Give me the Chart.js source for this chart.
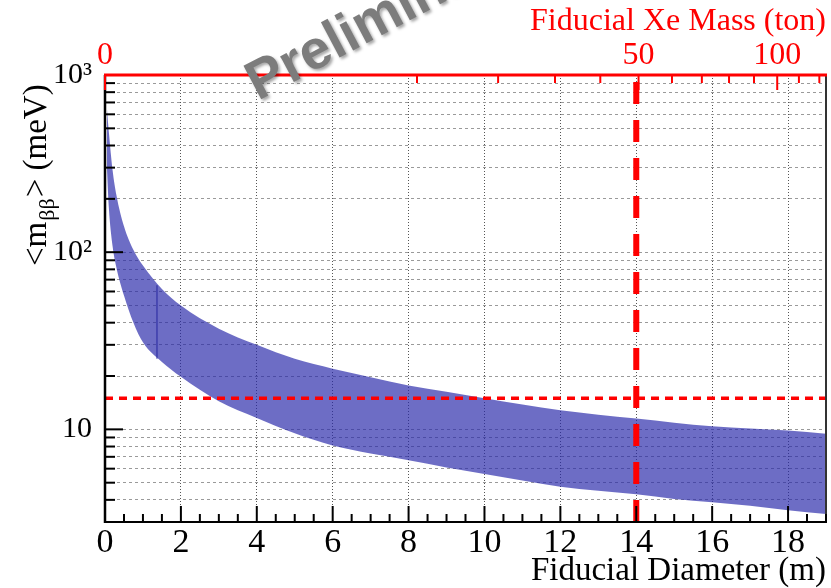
<!DOCTYPE html>
<html>
<head>
<meta charset="utf-8">
<script src="https://cdn.jsdelivr.net/npm/chart.js@4.4.1/dist/chart.umd.min.js"></script>
<style>
html,body{margin:0;padding:0;background:#ffffff;}
#wrap{width:831px;height:588px;position:relative;}
</style>
</head>
<body>
<div id="wrap"><canvas id="c" width="831" height="588"></canvas></div>
<script>
// ---- data ----
const diameter = [0.05, 0.1, 0.2, 0.3, 0.5, 0.75, 1, 1.5, 2, 3, 4, 5, 6, 7, 8, 9, 10, 11, 12, 13, 14, 15, 16, 17, 18, 19];
const upperMbb = [650, 480, 290, 210, 140, 103, 84, 62, 50, 37, 30, 25, 22, 19.7, 17.7, 16.3, 15, 13.8, 12.8, 12.1, 11.5, 10.9, 10.4, 10.1, 9.85, 9.45];
const lowerMbb = [300, 180, 108, 82, 57, 40, 31, 24, 19.8, 14.4, 11.6, 9.5, 8.1, 7.3, 6.7, 6.1, 5.6, 5.15, 4.75, 4.5, 4.3, 4.05, 3.88, 3.7, 3.5, 3.33];
const seamDiameter = [1.37, 1.37];
const seamMbb = [65, 25];
const goalMbb = 15;          // meV, horizontal red dashed line
const designDiameter = 14;   // m, vertical red dashed line

// ---- axes ----
const xRange = [0, 19];
const yRange = [3, 1000];
const diameterTicks = [0, 2, 4, 6, 8, 10, 12, 14, 16, 18];
const diameterMinorStep = 0.5;
const yGridValues = [3, 4, 5, 6, 7, 8, 9, 10, 20, 30, 40, 50, 60, 70, 80, 90, 100, 200, 300, 400, 500, 600, 700, 800, 900, 1000];
const yMajorValues = [10, 100, 1000];
const yTickLabels = ['10', '10\u00B2', '10\u00B3'];
const massLabels = [0, 50, 100];
const massMinor = [10, 20, 30, 40, 50, 60, 70, 80, 90, 100, 110, 120];
const diameterAt50ton = 14.06; // mass grows as diameter cubed
function massToDiameter(m) { return diameterAt50ton * Math.cbrt(m / 50); }

const SERIF = '"Liberation Serif", "Times New Roman", serif';
const RED = '#ff0000';

const framePlugin = {
  id: 'rootFrame',
  afterDatasetsDraw(chart) {
    const {ctx, chartArea: a, scales} = chart;
    const xs = scales.x, ys = scales.y;
    const seg = (x1, y1, x2, y2) => { ctx.beginPath(); ctx.moveTo(x1, y1); ctx.lineTo(x2, y2); ctx.stroke(); };
    ctx.save();
    ctx.setLineDash([]);
    // right frame
    ctx.strokeStyle = '#333'; ctx.lineWidth = 2;
    seg(a.right, a.top, a.right, a.bottom);
    // bottom axis
    ctx.strokeStyle = '#000'; ctx.lineWidth = 2;
    seg(a.left - 1, a.bottom, a.right + 1, a.bottom);
    const nMinor = Math.round((xRange[1] - xRange[0]) / diameterMinorStep);
    for (let i = 0; i <= nMinor; i++) {
      const d = xRange[0] + i * diameterMinorStep;
      const px = xs.getPixelForValue(d);
      const len = diameterTicks.includes(d) ? 16 : 8;
      seg(px, a.bottom, px, a.bottom - len);
    }
    // left axis
    ctx.lineWidth = 2.5;
    seg(a.left, a.top, a.left, a.bottom + 1);
    ctx.lineWidth = 2;
    yGridValues.forEach(v => {
      const py = ys.getPixelForValue(v);
      const len = yMajorValues.includes(v) ? 18 : 10;
      seg(a.left, py, a.left + len, py);
    });
    // top red mass axis
    ctx.strokeStyle = RED; ctx.lineWidth = 3;
    seg(a.left - 1, a.top, a.right + 1, a.top);
    ctx.lineWidth = 2;
    [0].concat(massMinor).forEach(m => {
      const px = xs.getPixelForValue(massToDiameter(m));
      const len = massLabels.includes(m) ? 15 : 8;
      seg(px, a.top, px, a.top + len);
    });
    ctx.restore();
  },
  afterDraw(chart) {
    const {ctx} = chart;
    // y axis title with subscript
    ctx.save();
    ctx.translate(46, 266);
    ctx.rotate(-Math.PI / 2);
    ctx.fillStyle = '#000';
    ctx.textAlign = 'left';
    ctx.textBaseline = 'alphabetic';
    ctx.font = '33px ' + SERIF;
    ctx.fillText('<m', 0, 0);
    let w = ctx.measureText('<m').width;
    ctx.font = '22px ' + SERIF;
    ctx.fillText('\u03B2\u03B2', w + 1, 8);
    w += ctx.measureText('\u03B2\u03B2').width + 2;
    ctx.font = '33px ' + SERIF;
    ctx.fillText('> (meV)', w, 0);
    ctx.restore();
    // watermark
    ctx.save();
    ctx.translate(258, 101);
    ctx.rotate(-28 * Math.PI / 180);
    ctx.font = 'bold 55px "Liberation Sans", Arial, sans-serif';
    ctx.textAlign = 'left';
    ctx.textBaseline = 'alphabetic';
    ctx.shadowColor = 'rgba(0,0,0,0.35)';
    ctx.shadowBlur = 3;
    ctx.shadowOffsetX = 2;
    ctx.shadowOffsetY = 2;
    ctx.fillStyle = '#7c7c7c';
    ctx.fillText('Preliminary', 0, 0);
    ctx.restore();
  }
};

const pts = (xs, ys) => xs.map((x, i) => ({x: x, y: ys[i]}));

new Chart(document.getElementById('c'), {
  type: 'line',
  data: {
    datasets: [
      {
        label: 'goal',
        data: pts([xRange[0], xRange[1]], [goalMbb, goalMbb]),
        borderColor: RED, borderWidth: 3.5, borderDash: [8, 6],
        pointRadius: 0, fill: false
      },
      {
        label: 'design',
        data: pts([designDiameter, designDiameter], [yRange[0], yRange[1]]),
        borderColor: RED, borderWidth: 6, borderDash: [22, 16],
        pointRadius: 0, fill: false
      },
      {
        label: 'seam',
        data: pts(seamDiameter, seamMbb),
        borderColor: 'rgba(40,40,160,0.85)', borderWidth: 1.2,
        pointRadius: 0, fill: false
      },
      {
        label: 'upper',
        data: pts(diameter, upperMbb),
        borderColor: 'rgba(0,0,0,0)', borderWidth: 0,
        backgroundColor: 'rgba(40,40,170,0.68)',
        fill: '+1', pointRadius: 0, cubicInterpolationMode: 'monotone'
      },
      {
        label: 'lower',
        data: pts(diameter, lowerMbb),
        borderColor: 'rgba(0,0,0,0)', borderWidth: 0,
        fill: false, pointRadius: 0, cubicInterpolationMode: 'monotone'
      }
    ]
  },
  options: {
    responsive: false,
    animation: false,
    devicePixelRatio: 1,
    layout: { padding: { left: 0, right: 5, top: 0, bottom: 0 } },
    plugins: { legend: { display: false }, tooltip: { enabled: false } },
    scales: {
      x: {
        type: 'linear', position: 'bottom', min: xRange[0], max: xRange[1],
        afterBuildTicks: s => { s.ticks = diameterTicks.map(v => ({value: v})); },
        afterFit: s => { s.height = 66; },
        ticks: { font: { family: SERIF, size: 34 }, color: '#000', padding: 1, autoSkip: false, maxRotation: 0 },
        grid: {
          drawTicks: false, lineWidth: 1,
          color: c => (c.tick && c.tick.value === 0) ? 'rgba(0,0,0,0)' : '#555'
        },
        border: { display: false, dash: [1, 2] },
        title: {
          display: true, text: 'Fiducial Diameter (m)', align: 'end', color: '#000',
          font: { family: SERIF, size: 33, lineHeight: 1.0 }, padding: { top: 0, bottom: 0 }
        }
      },
      x2: {
        type: 'linear', position: 'top', min: xRange[0], max: xRange[1],
        afterBuildTicks: s => { s.ticks = massLabels.map(m => ({value: massToDiameter(m)})); },
        afterFit: s => { s.height = 75; },
        ticks: {
          callback: (v, i) => String(massLabels[i]),
          font: { family: SERIF, size: 32 }, color: RED, padding: 0, autoSkip: false, maxRotation: 0
        },
        grid: { display: false, drawTicks: false },
        border: { display: false },
        title: {
          display: true, text: 'Fiducial Xe Mass (ton)', align: 'end', color: RED,
          font: { family: SERIF, size: 32, lineHeight: 1.0 }, padding: { top: 6, bottom: 0 }
        }
      },
      y: {
        type: 'logarithmic', position: 'left', min: yRange[0], max: yRange[1],
        afterBuildTicks: s => { s.ticks = yGridValues.map(v => ({value: v})); },
        afterFit: s => { s.width = 105; },
        ticks: {
          callback: v => { const k = yMajorValues.indexOf(v); return k >= 0 ? yTickLabels[k] : ''; },
          font: { family: SERIF, size: 30 }, color: '#000', padding: 13, autoSkip: false
        },
        grid: { drawTicks: false, color: '#9a9a9a', lineWidth: 1 },
        border: { display: false, dash: [3, 3] }
      }
    }
  },
  plugins: [framePlugin]
});
</script>
</body>
</html>
